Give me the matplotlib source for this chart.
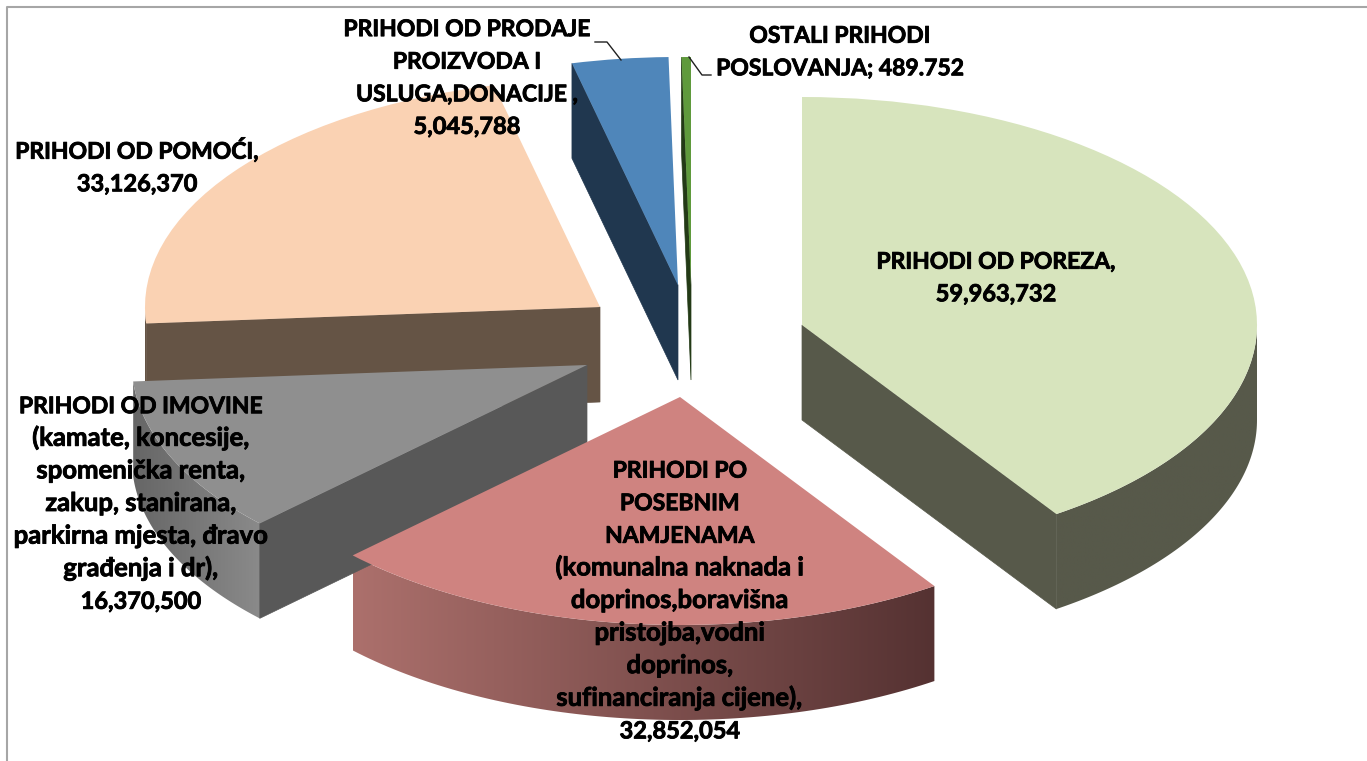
import numpy as np
import matplotlib
matplotlib.use('Agg')
import matplotlib.pyplot as plt
import matplotlib.patheffects as pe
from matplotlib.colors import to_rgb
from matplotlib.patches import Wedge, Polygon
from matplotlib.transforms import Affine2D

# data
names = ['porez', 'posebne', 'imovina', 'pomoc', 'prodaja', 'ostali']
values = [59963732, 32852054, 16370500, 33126370, 5045788, 489752]

labels = [
    'PRIHODI OD POREZA,\n59,963,732',
    'PRIHODI PO\nPOSEBNIM\nNAMJENAMA\n(komunalna naknada i\ndoprinos,boravišna\npristojba,vodni\ndoprinos,\nsufinanciranja cijene),\n32,852,054',
    'PRIHODI OD IMOVINE\n(kamate, koncesije,\nspomenička renta,\nzakup, stanirana,\nparkirna mjesta, đravo\ngrađenja i dr),\n16,370,500',
    'PRIHODI OD POMOĆI,\n33,126,370',
    'PRIHODI OD PRODAJE\nPROIZVODA I\nUSLUGA,DONACIJE ,\n5,045,788',
    'OSTALI PRIHODI\nPOSLOVANJA; 489.752',
]

# exploded slice centres in pixels
centres = [(802, 325), (680, 397), (587, 365), (600, 307), (678, 285), (691, 285)]
label_pos = [(996, 277), (680, 600), (141, 503), (137, 167), (467, 77), (840, 51)]

top_colors = ['#D7E4BD', '#CF8380', '#8F8F8F', '#FAD2B3', '#4F86BA', '#5F9A3C']
side_colors = ['#57594A', '#7A4B49', '#585858', '#655445', '#20374F', '#233A16']
# rim gradient ends, left to right
rim_colors = [('#57594A', '#57594A'), ('#AC706C', '#553232'), ('#666666', '#8A8A8A'),
              ('#655445', '#655445'), ('#20374F', '#20374F'), ('#233A16', '#233A16')]

rx, ry, depth = 455, 228, 95
line_pitch = 32.6
draw_order = [3, 4, 5, 0, 2, 1]

fracs = np.array(values) / sum(values)
ends = np.cumsum(fracs) * 360
starts = ends - fracs * 360

fig = plt.figure(figsize=(13.67, 7.61), dpi=100)
ax = fig.add_axes([0, 0, 1, 1])
ax.axis('off')

# chart frame
ax.plot([6.5, 6.5, 1367], [761, 6.5, 6.5], color='#A6A6A6', lw=1.5, zorder=0)


def rim_point(c, a, extra=0.0):
    t = np.radians(a)
    return c[0] + rx * np.sin(t), c[1] - ry * np.cos(t) + extra


def cut_wall(c, a, color):
    x, y = rim_point(c, a)
    pts = [(c[0], c[1]), (x, y), (x, y + depth), (c[0], c[1] + depth)]
    ax.add_patch(Polygon(pts, closed=True, fc=color, ec=color, lw=0.5))


def rim_wall(c, a0, a1, cols):
    a0, a1 = max(a0, 90), min(a1, 270)
    if a1 <= a0:
        return
    edges = np.linspace(a0, a1, 81)
    top = [rim_point(c, e) for e in edges]
    bottom = [rim_point(c, e, depth) for e in edges[::-1]]
    poly = Polygon(top + bottom, closed=True, fc='none', ec='none')
    ax.add_patch(poly)
    xs = [p[0] for p in top]
    ys = [p[1] for p in top + bottom]
    ramp = np.linspace(to_rgb(cols[0]), to_rgb(cols[1]), 256)[None, :, :]
    im = ax.imshow(ramp, extent=(min(xs), max(xs), max(ys), min(ys)), aspect='auto', interpolation='bilinear')
    im.set_clip_path(poly)


for i in draw_order:
    c = centres[i]
    a0, a1 = starts[i], ends[i]
    if np.sin(np.radians(a0)) < -1e-6:
        cut_wall(c, a0, side_colors[i])
    if np.sin(np.radians(a1)) > 1e-6:
        cut_wall(c, a1, side_colors[i])
    rim_wall(c, a0, a1, rim_colors[i])
    tr = Affine2D().scale(rx, ry).translate(c[0], c[1]) + ax.transData
    ax.add_patch(Wedge((0, 0), 1, a0 - 90, a1 - 90, fc=top_colors[i], ec='none', transform=tr))

# leader lines
ax.plot([595, 607, 621], [42, 42, 60], color='#202020', lw=1)
ax.plot([689, 702, 711], [57, 75, 75], color='#202020', lw=1)

# labels line by line, lowercase runs wide in the original font
for i, t in enumerate(labels):
    lines = t.split('\n')
    y0 = label_pos[i][1] - line_pitch * (len(lines) - 1) / 2
    for k, line in enumerate(lines):
        if any(ch.islower() for ch in line):
            size = 18.5
        elif line[0].isdigit():
            size = 17
        else:
            size = 16.5
        ax.text(label_pos[i][0], y0 + k * line_pitch + 8, line, ha='center', va='baseline',
                fontsize=size, fontweight='bold', family='Lato', color='black', zorder=10,
                path_effects=[pe.withStroke(linewidth=0.6, foreground='black')])

ax.set_xlim(0, 1367)
ax.set_ylim(761, 0)

fig.savefig('out.png', dpi=100)
